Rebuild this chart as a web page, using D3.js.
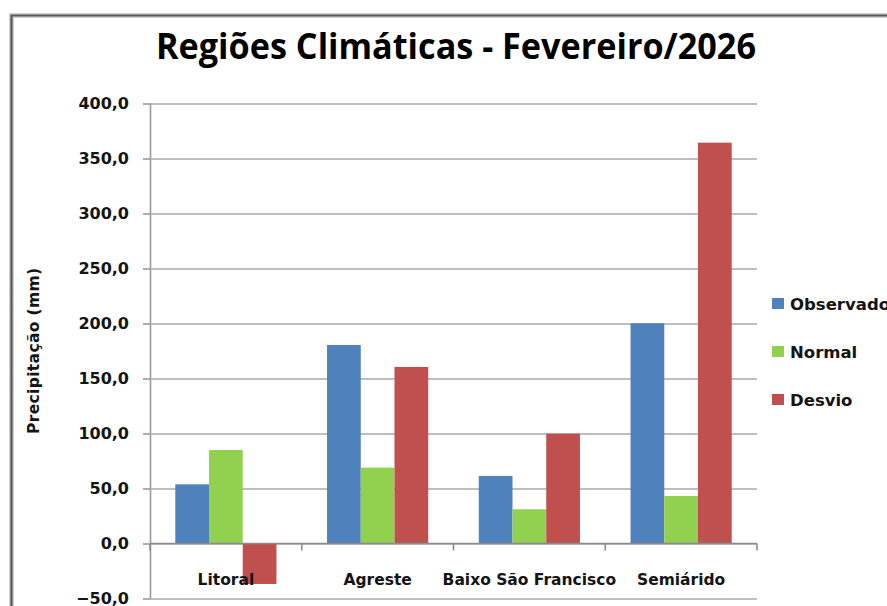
<!DOCTYPE html>
<html><head><meta charset="utf-8">
<script src="https://cdn.jsdelivr.net/npm/d3@7"></script>
<style>
html,body{margin:0;padding:0;background:#fff;overflow:hidden;}
svg{display:block;}
</style></head>
<body>
<svg id="chart" width="887" height="606"></svg>
<script>
const categories = ["Litoral", "Agreste", "Baixo São Francisco", "Semiárido"];
const seriesNames = ["Observado", "Normal", "Desvio"];
const observado = [53.8, 180.5, 61.4, 200.2];
const normal = [85.0, 69.0, 31.1, 43.2];
const desvio = [-36.8, 160.5, 99.8, 364.4];
const colors = ["#4F81BD", "#92D050", "#C0504D"];
const yTicks = [-50, 0, 50, 100, 150, 200, 250, 300, 350, 400];
const titleText = "Regiões Climáticas - Fevereiro/2026";
const yTitle = "Precipitação (mm)";

const values = [observado, normal, desvio];
const rows = categories.map((c, i) => ({cat: c, vals: seriesNames.map((s, j) => ({s, j, v: values[j][i]}))}));

const svg = d3.select("#chart");
const font = "'DejaVu Sans', sans-serif";
const txt = "#141414";

// frame
svg.append("path").attr("d", "M11.5,606 L11.5,15.5 L887,15.5").attr("fill", "none")
  .attr("stroke", "#d0d0d0").attr("stroke-width", 5);
svg.append("path").attr("d", "M11.5,606 L11.5,15.5 L887,15.5").attr("fill", "none")
  .attr("stroke", "#5a5a5a").attr("stroke-width", 2.2);

const L = 150, R = 757;
const y = d3.scaleLinear().domain([-50, 400]).range([598.5, 103.5]);
const x0 = d3.scaleBand().domain(categories).range([L, R]).paddingInner(1/3).paddingOuter(1/6);
const x1 = d3.scaleBand().domain(seriesNames).range([0, x0.bandwidth()]).padding(0);

const loc = d3.formatLocale({decimal: ",", thousands: ".", grouping: [3], currency: ["R$", ""]});
const fmt = loc.format(".1f");

// gridlines + y axis
const yAxis = d3.axisLeft(y).tickValues(yTicks).tickFormat(fmt).tickSize(7).tickPadding(14);
const gy = svg.append("g").attr("transform", `translate(${L},0)`).call(yAxis);
gy.select(".domain").attr("stroke", "#9a9a9a").attr("stroke-width", 1.6).attr("d", `M0.5,${y(400)}V${y(-50)}`);
gy.selectAll(".tick line").attr("stroke", "#9a9a9a").attr("stroke-width", 1.6);
gy.selectAll(".tick text").attr("font-family", font).attr("font-weight", "bold").attr("font-size", 16)
  .attr("fill", txt).attr("x", -21);
gy.selectAll(".tick").append("line").attr("x1", 0).attr("x2", R - L).attr("stroke", "#a8a8a8").attr("stroke-width", 1.6);

// bars
const g = svg.append("g").selectAll("g").data(rows).join("g")
  .attr("transform", d => `translate(${x0(d.cat)},0)`);
g.selectAll("rect").data(d => d.vals).join("rect")
  .attr("x", d => x1(d.s)).attr("width", x1.bandwidth())
  .attr("y", d => y(Math.max(0, d.v))).attr("height", d => Math.abs(y(d.v) - y(0)))
  .attr("fill", d => colors[d.j]);

// category axis at zero with boundary ticks
const step = x0.step();
const bounds = d3.range(categories.length + 1).map(i => L + i * step);
svg.append("line").attr("x1", L).attr("x2", R).attr("y1", y(0)).attr("y2", y(0))
  .attr("stroke", "#8c8c8c").attr("stroke-width", 1.6);
svg.selectAll(".ctick").data(bounds).join("line").attr("class", "ctick")
  .attr("x1", d => d).attr("x2", d => d).attr("y1", y(0)).attr("y2", y(0) + 7)
  .attr("stroke", "#8c8c8c").attr("stroke-width", 1.6);
svg.selectAll(".clab").data(categories).join("text").attr("class", "clab")
  .attr("x", d => x0(d) + x0.bandwidth() / 2).attr("y", 585)
  .attr("text-anchor", "middle").attr("font-family", font).attr("font-weight", "bold")
  .attr("font-size", 15.5).attr("fill", txt).text(d => d);

// title
svg.append("text").attr("x", 456).attr("y", 59).attr("text-anchor", "middle")
  .attr("font-family", "'Open Sans', sans-serif").attr("font-weight", "700").attr("font-size", 36)
  .attr("textLength", 600).attr("lengthAdjust", "spacingAndGlyphs")
  .attr("fill", "#000").text(titleText);

// y title
svg.append("text").attr("transform", "translate(39,351) rotate(-90)").attr("text-anchor", "middle")
  .attr("font-family", font).attr("font-weight", "bold").attr("font-size", 15.5)
  .attr("textLength", 166).attr("lengthAdjust", "spacing")
  .attr("fill", txt).text(yTitle);

// legend
const leg = svg.append("g").selectAll("g").data(seriesNames).join("g")
  .attr("transform", (d, i) => `translate(772,${303.5 + i * 48})`);
leg.append("rect").attr("x", 0).attr("y", -5.5).attr("width", 12).attr("height", 11)
  .attr("fill", (d, i) => colors[i]);
leg.append("text").attr("x", 18).attr("y", 6.5).attr("font-family", font).attr("font-weight", "bold")
  .attr("font-size", 16.5).attr("fill", txt).text(d => d);
</script>
</body></html>
